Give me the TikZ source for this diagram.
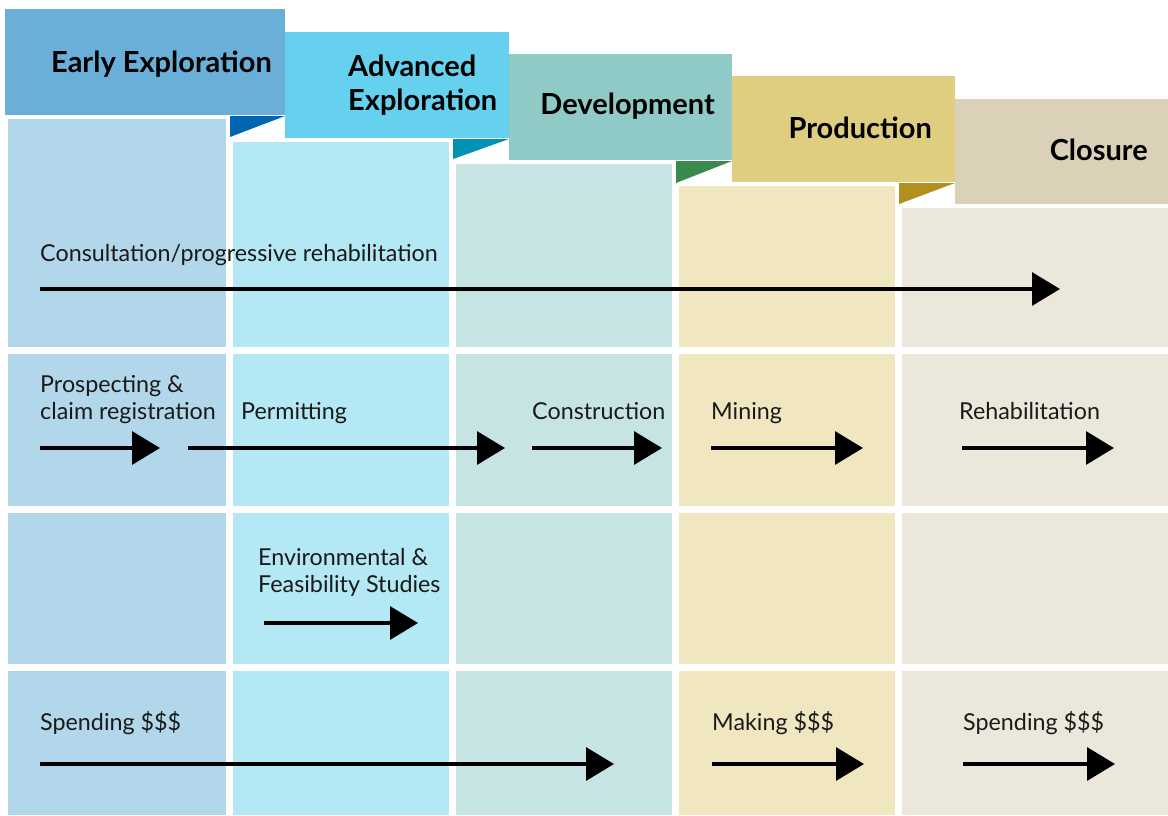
\documentclass[tikz,border=0pt]{standalone}
\usepackage{fontspec}
\setmainfont{Lato}
\usetikzlibrary{arrows.meta}
\definecolor{hA}{HTML}{6AAFD8}
\definecolor{fA}{HTML}{0066B3}
\definecolor{hB}{HTML}{66D1EE}
\definecolor{fB}{HTML}{0092B2}
\definecolor{hC}{HTML}{90CAC6}
\definecolor{fC}{HTML}{3A8A4E}
\definecolor{hD}{HTML}{E0CE80}
\definecolor{fD}{HTML}{B28F1E}
\definecolor{hE}{HTML}{DBD0B8}
\definecolor{cA}{HTML}{B3D7EA}
\definecolor{cB}{HTML}{B3E8F4}
\definecolor{cC}{HTML}{C6E4E3}
\definecolor{cD}{HTML}{F0E7C1}
\definecolor{cE}{HTML}{ECE7DB}
\definecolor{txt}{HTML}{1A1A1A}
\tikzset{
  lbl/.style={anchor=base west, inner sep=0pt, text=txt, font=\fontsize{23.3}{27}\selectfont, align=left},
  hdr/.style={anchor=base east, inner sep=0pt, text=black, font=\fontsize{29}{34}\selectfont\bfseries, align=left},
  flow/.style={line width=3.3pt, -{Triangle[length=28pt,width=33pt]}, black},
}
\begin{document}
\begin{tikzpicture}[x=1pt,y=-1pt]
\useasboundingbox (0,0) rectangle (1168,815);
\fill[white] (0,0) rectangle (1168,815);
% columns: cells
\foreach \xa/\xb/\top/\c in {8/226/119/cA, 233/449/142/cB, 456/672/164/cC, 679/895/186/cD, 902/1168/208/cE}{
  \fill[\c] (\xa,\top) rectangle (\xb,347);
  \fill[\c] (\xa,354) rectangle (\xb,506);
  \fill[\c] (\xa,513) rectangle (\xb,664);
  \fill[\c] (\xa,671) rectangle (\xb,815);
}
% headers
\fill[hA] (5,9) rectangle (285,115);
\fill[fA] (230,116) -- (285,116) -- (230,137) -- cycle;
\fill[hB] (285,32) rectangle (509,138);
\fill[fB] (453,139) -- (509,139) -- (453,159) -- cycle;
\fill[hC] (509,54) rectangle (732,160);
\fill[fC] (676,161) -- (732,161) -- (676,183) -- cycle;
\fill[hD] (732,76) rectangle (955,182);
\fill[fD] (899,183) -- (955,183) -- (899,204) -- cycle;
\fill[hE] (955,99) rectangle (1168,204);
% header texts
\node[hdr] (h1) at (272,72) {Early Exploration};
\node[hdr, anchor=base west] (h2) at (348,110) {Advanced\\Exploration};
\node[hdr] (h3) at (715,114) {Development};
\node[hdr] (h4) at (932,138) {Production};
\node[hdr] (h5) at (1148,160) {Closure};
% labels
\node[lbl] (l1) at (40,261) {Consultation/progressive rehabilitation};
\node[lbl] (l2) at (40,419) {Prospecting \&\\claim registration};
\node[lbl] (l3) at (241,419) {Permitting};
\node[lbl] (l4) at (532,419) {Construction};
\node[lbl] (l5) at (711,419) {Mining};
\node[lbl] (l6) at (959,419) {Rehabilitation};
\node[lbl] (l7) at (258,592) {Environmental \&\\Feasibility Studies};
\node[lbl] (l8) at (40,730) {Spending \$\$\$};
\node[lbl] (l9) at (712,730) {Making \$\$\$};
\node[lbl] (l10) at (963,730) {Spending \$\$\$};
% arrow end points
\coordinate (a1s) at (40,289);  \coordinate (a1e) at (1060,289);
\coordinate (a2s) at (40,448);  \coordinate (a2e) at (160,448);
\coordinate (a3s) at (188,448); \coordinate (a3e) at (505,448);
\coordinate (a4s) at (532,448); \coordinate (a4e) at (662,448);
\coordinate (a5s) at (711,448); \coordinate (a5e) at (863,448);
\coordinate (a6s) at (962,448); \coordinate (a6e) at (1114,448);
\coordinate (a7s) at (264,623); \coordinate (a7e) at (418,623);
\coordinate (a8s) at (40,764);  \coordinate (a8e) at (614,764);
\coordinate (a9s) at (712,764); \coordinate (a9e) at (864,764);
\coordinate (a10s) at (963,764); \coordinate (a10e) at (1115,764);
\foreach \i in {1,...,10}{ \draw[flow] (a\i s) -- (a\i e); }
\end{tikzpicture}
\end{document}
